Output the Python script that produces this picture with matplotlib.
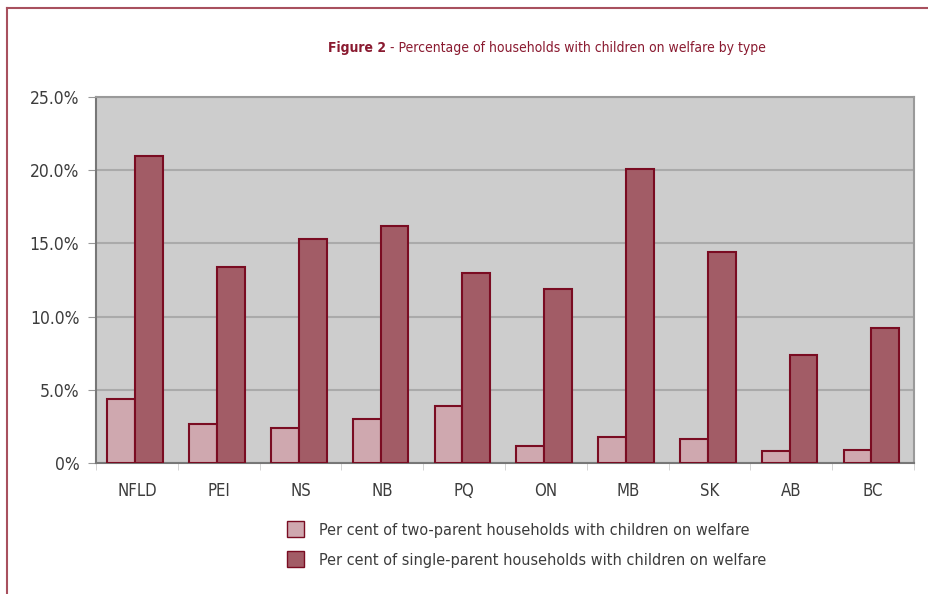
import matplotlib.pyplot as plt
import numpy as np
from matplotlib.lines import Line2D
from matplotlib.patches import Patch

provinces = ["NFLD", "PEI", "NS", "NB", "PQ", "ON", "MB", "SK", "AB", "BC"]
two_parent = [4.4, 2.65, 2.4, 3.0, 3.9, 1.15, 1.8, 1.65, 0.8, 0.9]
single_parent = [21.0, 13.4, 15.3, 16.2, 13.0, 11.9, 20.1, 14.4, 7.4, 9.2]
yticks = [0, 5, 10, 15, 20, 25]
ytick_labels = ["0%", "5.0%", "10.0%", "15.0%", "20.0%", "25.0%"]

plt.rcParams['font.family'] = ['DejaVu Sans']
plt.rcParams['font.stretch'] = 'condensed'

light = "#cfa8af"
dark = "#a25c66"
edge = "#7a0c22"
text_col = "#3c3c3c"

fig = plt.figure(figsize=(9.29, 5.94), dpi=100)
ax = fig.add_axes([96 / 929, 131 / 594, 818 / 929, 366 / 594])
ax.set_facecolor("#cdcdcd")

x = np.arange(len(provinces))
w = 0.34
ax.bar(x - w / 2 - 0.02, two_parent, w, color=light, edgecolor=edge, linewidth=1.5, zorder=3)
ax.bar(x + w / 2 - 0.02, single_parent, w, color=dark, edgecolor=edge, linewidth=1.5, zorder=3)

ax.set_xlim(-0.5, len(provinces) - 0.5)
ax.set_ylim(0, 25)
ax.set_yticks(yticks)
ax.set_yticklabels(ytick_labels, fontsize=12.5, color=text_col)
ax.set_xticks(x)
ax.set_xticklabels(provinces, fontsize=12, color=text_col)
ax.tick_params(axis='x', length=0, pad=14)
ax.tick_params(axis='y', length=6, color="#999999", pad=6)
ax.set_xticks(np.arange(-0.5, len(provinces)), minor=True)
ax.tick_params(axis='x', which='minor', length=5, color="#cccccc")

ax.grid(axis='y', color="#aaaaaa", linewidth=1.5, zorder=1)
for s in ["top", "right"]:
    ax.spines[s].set_color("#9a9a9a")
    ax.spines[s].set_linewidth(1.5)
ax.spines["left"].set_color("#777777")
ax.spines["left"].set_linewidth(1.5)
ax.spines["bottom"].set_color("#777777")
ax.spines["bottom"].set_linewidth(1.5)

title_size = 10
t1 = fig.text(328 / 929, 1 - 48 / 594, "Figure 2", fontsize=title_size, fontweight='bold',
              color="#8a1a30", ha='left', va='center')
fig.canvas.draw()
bb = t1.get_window_extent()
t2 = fig.text(bb.x1 / 929, 1 - 48 / 594, " - Percentage of households with children on welfare by type",
              fontsize=title_size, color="#8a1a30", ha='left', va='center')

# outer frame
fig.add_artist(Line2D([7 / 929, 7 / 929], [0, 1 - 8 / 594], transform=fig.transFigure,
                      color="#a8505e", linewidth=1.5))
fig.add_artist(Line2D([7 / 929, 1], [1 - 8 / 594, 1 - 8 / 594], transform=fig.transFigure,
                      color="#a8505e", linewidth=1.5))

handles = [Patch(facecolor=light, edgecolor=edge, linewidth=1),
           Patch(facecolor=dark, edgecolor=edge, linewidth=1)]
labels = ["Per cent of two-parent households with children on welfare",
          "Per cent of single-parent households with children on welfare"]
fig.legend(handles, labels, loc='upper left', bbox_to_anchor=(272 / 929, 1 - 507 / 594),
           frameon=False, fontsize=11.6, handlelength=1.1, handleheight=1.1,
           labelcolor=text_col, labelspacing=0.85, handletextpad=0.9)

fig.savefig("out.png", dpi=100)
